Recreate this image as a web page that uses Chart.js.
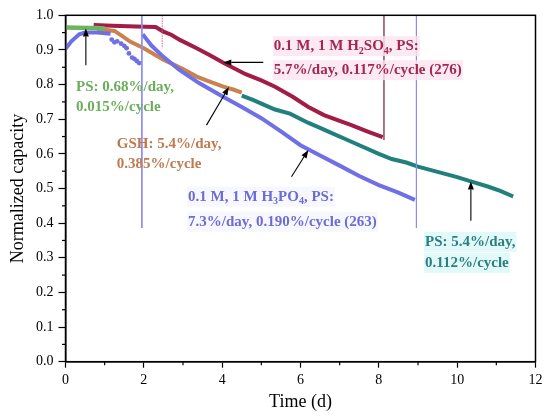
<!DOCTYPE html>
<html>
<head>
<meta charset="utf-8">
<script src="https://cdn.jsdelivr.net/npm/chart.js@4"></script>
<style>
html,body{margin:0;padding:0;background:#fff;}
#wrap{width:550px;height:417px;position:relative;}
</style>
</head>
<body>
<div id="wrap"><canvas id="c"></canvas></div>
<script>
// ---- data ----
const greenX = [0, 0.3, 0.6, 0.8, 1.0];
const greenY = [0.965, 0.964, 0.963, 0.963, 0.962];

const blueStartX = [0, 0.15, 0.35, 0.5, 0.8, 1.15];
const blueStartY = [0.903, 0.925, 0.945, 0.950, 0.950, 0.947];
const blueDotsX = [1.18, 1.25, 1.32, 1.42, 1.5, 1.56, 1.62, 1.7, 1.76, 1.82, 1.88];
const blueDotsY = [0.930, 0.922, 0.925, 0.918, 0.912, 0.905, 0.890, 0.878, 0.874, 0.868, 0.862];
const blueX = [1.97, 2.2, 2.5, 2.9, 3.4, 4.0, 4.5, 5.0, 5.5, 6.0, 6.5, 7.0, 7.5, 8.0, 8.5, 8.92];
const blueY = [0.945, 0.912, 0.880, 0.843, 0.805, 0.766, 0.735, 0.703, 0.665, 0.625, 0.595, 0.566, 0.536, 0.510, 0.488, 0.467];

const orangeX = [0.8, 1.0, 1.25, 1.45, 1.65, 2.0, 2.5, 3.0, 3.35, 3.7, 4.03, 4.3, 4.5];
const orangeY = [0.958, 0.958, 0.955, 0.940, 0.924, 0.905, 0.872, 0.845, 0.823, 0.808, 0.794, 0.785, 0.777];

const tealX = [4.5, 4.8, 5.0, 5.35, 5.73, 6.19, 6.5, 6.8, 7.2, 7.56, 8.0, 8.33, 8.7, 9.0, 9.5, 10.0, 10.37, 10.8, 11.1, 11.43];
const tealY = [0.768, 0.755, 0.745, 0.728, 0.716, 0.690, 0.675, 0.660, 0.640, 0.622, 0.600, 0.585, 0.575, 0.563, 0.548, 0.533, 0.520, 0.505, 0.493, 0.477];

const redX = [0.72, 1.2, 1.8, 2.3, 2.5, 2.7, 2.92, 3.35, 3.7, 4.03, 4.6, 5.0, 5.35, 5.8, 6.19, 6.6, 7.0, 7.3, 7.7, 8.1];
const redY = [0.972, 0.970, 0.968, 0.966, 0.953, 0.944, 0.929, 0.905, 0.884, 0.863, 0.830, 0.812, 0.794, 0.765, 0.736, 0.712, 0.695, 0.683, 0.665, 0.648];

// reference cut lines (x position, lower y end)
const blueCutX = [1.95, 8.96];
const blueCutBottom = [0.386, 0.386];
const redCutX = [2.47, 8.13];
const redCutBottom = [0.905, 0.640];

const xTickLabels = ['0', '2', '4', '6', '8', '10', '12'];
const yTickLabels = ['0.0','0.1','0.2','0.3','0.4','0.5','0.6','0.7','0.8','0.9','1.0'];

// ---- helpers ----
const pts = (xs, ys) => xs.map((x, i) => ({x: x, y: ys[i]}));
function line(data, color, width, extra) {
  return Object.assign({data: data, borderColor: color, backgroundColor: color, borderWidth: width,
    pointRadius: 0, tension: 0, fill: false}, extra || {});
}

const C = {
  green: '#6DB55D', blue: '#7070E6', orange: '#C8834F', teal: '#217F7D', red: '#A21C46',
  greenT: '#6AAE5A', blueT: '#6C6CD4', orangeT: '#C07A4E', tealT: '#2E7E7F', redT: '#A3284F'
};

const datasets = [];
blueCutX.forEach((x, i) => datasets.push(line(pts([x, x], [1.0, blueCutBottom[i]]), '#8C8CF0', 1)));
redCutX.forEach((x, i) => datasets.push(line(pts([x, x], [1.0, redCutBottom[i]]), i === 0 ? '#C8708C' : '#A06072', 1, i === 0 ? {borderDash: [1.5, 1]} : {})));
datasets.push(line(pts(greenX, greenY), C.green, 4.5));
datasets.push(line(pts(blueStartX, blueStartY), C.blue, 4));
datasets.push(Object.assign(line(pts(blueDotsX, blueDotsY), C.blue, 0), {showLine: false, pointRadius: 2.4, pointBorderWidth: 0}));
datasets.push(line(pts(blueX, blueY), C.blue, 4));
datasets.push(line(pts(orangeX, orangeY), C.orange, 4));
datasets.push(line(pts(tealX, tealY), C.teal, 4));
datasets.push(line(pts(redX, redY), C.red, 4));

// annotations in data units
const arrows = [
  {from: [0.52, 0.856], to: [0.52, 0.962]},
  {from: [5.05, 0.864], to: [4.03, 0.864]},
  {from: [3.60, 0.683], to: [4.17, 0.793]},
  {from: [5.77, 0.534], to: [6.20, 0.611]},
  {from: [10.35, 0.407], to: [10.35, 0.520]}
];
const labels = [
  {x: 0.27, y: 0.794, gap: 20.5, color: 'greenT', lines: [[['PS: 0.68%/day,']], [['0.015%/cycle']]]},
  {x: 1.31, y: 0.628, gap: 19.5, color: 'orangeT', lines: [[['GSH: 5.4%/day,']], [['0.385%/cycle']]]},
  {x: 5.32, y: 0.911, gap: 24, color: 'redT', bg: 'rgba(252,228,238,0.8)',
    lines: [[['0.1 M, 1 M H'], ['2', 1], ['SO'], ['4', 1], [', PS:']], [['5.7%/day, 0.117%/cycle (276)']]]},
  {x: 3.13, y: 0.476, gap: 25, color: 'blueT', bg: 'rgba(242,242,255,0.6)',
    lines: [[['0.1 M, 1 M H'], ['3', 1], ['PO'], ['4', 1], [', PS:']], [['7.3%/day, 0.190%/cycle (263)']]]},
  {x: 9.18, y: 0.346, gap: 21, color: 'tealT', bg: 'rgba(222,248,248,0.9)',
    lines: [[['PS: 5.4%/day,']], [['0.112%/cycle']]]}
];

const FONT = '"Liberation Serif", "Times New Roman", serif';

const framePlugin = {
  id: 'frame',
  afterDatasetsDraw(chart) {
    const ctx = chart.ctx, xs = chart.scales.x, ys = chart.scales.y;
    const a = chart.chartArea;
    ctx.save();
    // minor ticks
    ctx.strokeStyle = '#000'; ctx.lineWidth = 1.2;
    for (let v = 1; v < 12; v += 2) {
      const px = xs.getPixelForValue(v);
      ctx.beginPath(); ctx.moveTo(px, a.bottom); ctx.lineTo(px, a.bottom + 3.5); ctx.stroke();
    }
    for (let k = 0; k < 10; k++) {
      const py = ys.getPixelForValue(k / 10 + 0.05);
      ctx.beginPath(); ctx.moveTo(a.left, py); ctx.lineTo(a.left - 3.5, py); ctx.stroke();
    }
    // frame
    ctx.lineWidth = 1.5;
    ctx.strokeRect(a.left, a.top, a.right - a.left, a.bottom - a.top);
    // arrows
    ctx.lineWidth = 1.1; ctx.fillStyle = '#000';
    arrows.forEach(ar => {
      const x1 = xs.getPixelForValue(ar.from[0]), y1 = ys.getPixelForValue(ar.from[1]);
      const x2 = xs.getPixelForValue(ar.to[0]), y2 = ys.getPixelForValue(ar.to[1]);
      const ang = Math.atan2(y2 - y1, x2 - x1);
      const hl = 8, hw = 3;
      const bx = x2 - hl * Math.cos(ang), by = y2 - hl * Math.sin(ang);
      ctx.beginPath(); ctx.moveTo(x1, y1); ctx.lineTo(bx, by); ctx.stroke();
      ctx.beginPath();
      ctx.moveTo(x2, y2);
      ctx.lineTo(bx + hw * Math.sin(ang), by - hw * Math.cos(ang));
      ctx.lineTo(bx - hw * Math.sin(ang), by + hw * Math.cos(ang));
      ctx.closePath(); ctx.fill();
    });
    // labels
    ctx.textBaseline = 'middle'; ctx.textAlign = 'left';
    const main = 'bold 15px ' + FONT, sub = 'bold 10px ' + FONT;
    labels.forEach(lb => {
      const x0 = xs.getPixelForValue(lb.x), y0 = ys.getPixelForValue(lb.y);
      lb.lines.forEach((segs, li) => {
        const y = y0 + li * lb.gap;
        let w = 0;
        segs.forEach(s => { ctx.font = s[1] ? sub : main; w += ctx.measureText(s[0]).width; });
        if (lb.bg) { ctx.fillStyle = lb.bg; ctx.fillRect(x0 - 1, y - 10, w + 2, 20); }
        ctx.fillStyle = C[lb.color];
        let x = x0;
        segs.forEach(s => {
          ctx.font = s[1] ? sub : main;
          ctx.fillText(s[0], x, s[1] ? y + 5 : y);
          x += ctx.measureText(s[0]).width;
        });
      });
    });
    ctx.restore();
  }
};

const isMult = (v, step) => Math.abs(Math.round(v / step) * step - v) < 1e-6;

new Chart(document.getElementById('c'), {
  type: 'line',
  data: {datasets: datasets},
  options: {
    responsive: true, maintainAspectRatio: false, animation: false,
    layout: {padding: {left: 0, right: 14.5, top: 15.3, bottom: 0}},
    plugins: {legend: {display: false}, tooltip: {enabled: false}},
    scales: {
      x: {
        type: 'linear', min: 0, max: 12,
        afterFit: s => { s.height = 55.3; },
        border: {color: '#000', width: 1.5},
        grid: {drawOnChartArea: false, drawTicks: true, tickLength: 6, tickWidth: 1.2,
          tickColor: ctx => (ctx.tick && isMult(ctx.tick.value, 2)) ? '#000' : 'rgba(0,0,0,0)'},
        ticks: {stepSize: 1, padding: 4, color: '#000', maxRotation: 0, autoSkip: false,
          font: {family: FONT, size: 14},
          callback: v => isMult(v, 2) ? xTickLabels[Math.round(v / 2)] : ''},
        title: {display: true, text: 'Time (d)', color: '#000', font: {family: FONT, size: 18}, padding: {top: 0, bottom: 4}}
      },
      y: {
        type: 'linear', min: 0, max: 1,
        afterFit: s => { s.width = 65.5; },
        border: {color: '#000', width: 1.5},
        grid: {drawOnChartArea: false, drawTicks: true, tickLength: 7, tickWidth: 1.2,
          tickColor: ctx => (ctx.tick && isMult(ctx.tick.value, 0.1)) ? '#000' : 'rgba(0,0,0,0)'},
        ticks: {stepSize: 0.05, padding: 5, color: '#000', autoSkip: false,
          font: {family: FONT, size: 14},
          callback: v => isMult(v, 0.1) ? yTickLabels[Math.round(v * 10)] : ''},
        title: {display: true, text: 'Normalized capacity', color: '#000', font: {family: FONT, size: 18}, padding: {top: 7, bottom: 0}}
      }
    }
  },
  plugins: [framePlugin]
});
</script>
</body>
</html>
